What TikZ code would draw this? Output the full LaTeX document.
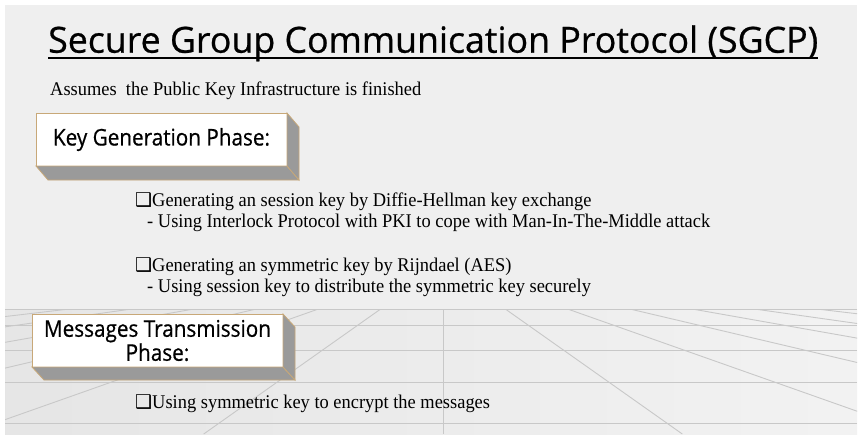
\documentclass[tikz,border=0pt]{standalone}
\usepackage{fontspec}
\setmainfont{Liberation Serif}[FakeStretch=0.95]
\newfontfamily\comicfont{Open Sans}[FakeStretch=0.9,FakeBold=0.6]
\newfontfamily\symfont{DejaVu Sans}
\definecolor{slidebg}{HTML}{EFEFEF}
\definecolor{gridc}{HTML}{C8C8C8}
\definecolor{boxedge}{HTML}{C8A878}
\definecolor{sidegray}{HTML}{9A9A9A}
\newcommand{\sqbul}{{\symfont\fontsize{19}{20}\selectfont ❑}}
\begin{document}
\begin{tikzpicture}[x=1pt,y=-1pt,
  gridline/.style={draw=gridc, line width=0.9pt},
  phasefront/.style={draw=boxedge, line width=0.8pt, fill=white, outer sep=0pt,
     minimum width=251pt, minimum height=53pt, inner sep=0pt, align=center,
     font=\comicfont\fontsize{23}{20}\selectfont},
  phaseside/.style={draw=boxedge, line width=0.8pt, fill=sidegray},
  bodytext/.style={anchor=base west, inner sep=0pt, font=\fontsize{19.4}{22}\selectfont},
  titletext/.style={anchor=base west, inner sep=0pt, font=\comicfont\fontsize{36}{40}\selectfont}
]
\useasboundingbox (0,0) rectangle (862,434);
\fill[white] (0,0) rectangle (862,434);
\fill[slidebg] (5,5) rectangle (857,434);
% floor
\shade[left color=black!10, middle color=white!97!black, right color=black!5] (5,309) rectangle (857,434);
\begin{scope}
  \clip (5,309) rectangle (857,434);
  \coordinate (vp) at (443,265);
  \foreach \k in {-8,...,8} {
    \draw[gridline] (vp) -- ++(\k*239.3,169);
  }
  \foreach \yy in {309,325,350,382,423} {
    \draw[gridline] (5,\yy) -- (857,\yy);
  }
\end{scope}

% title
\node[titletext] (title) at (48,52.7) {\resizebox{770pt}{\height}{Secure Group Communication Protocol (SGCP)}};
\draw[line width=2.4pt] ([yshift=-5pt]title.base west) -- ([yshift=-5pt]title.base east);

\node[bodytext] (assume) at (50,95) {Assumes\ \ the Public Key Infrastructure is finished};

% key generation box
\node[phasefront] (kg) at (161.5,139.5) {Key Generation Phase:};
\draw[phaseside] (kg.south west) -- ([shift={(12,14)}]kg.south west) -- ([shift={(12,14)}]kg.south east) -- (kg.south east) -- cycle;
\draw[phaseside] (kg.north east) -- ([shift={(12,14)}]kg.north east) -- ([shift={(12,14)}]kg.south east) -- (kg.south east) -- cycle;

\node[bodytext] (b1) at (135,206) {\sqbul Generating an session key by Diffie-Hellman key exchange};
\node[bodytext] (b1s) at (147,227) {- Using Interlock Protocol with PKI to cope with Man-In-The-Middle attack};
\node[bodytext] (b2) at (135,271) {\sqbul Generating an symmetric key by Rijndael (AES)};
\node[bodytext] (b2s) at (147,292) {- Using session key to distribute the symmetric key securely};

% messages transmission box
\node[phasefront] (mt) at (157.5,340.5) {Messages Transmission\\Phase:};
\draw[phaseside] (mt.south west) -- ([shift={(12,13)}]mt.south west) -- ([shift={(12,13)}]mt.south east) -- (mt.south east) -- cycle;
\draw[phaseside] (mt.north east) -- ([shift={(12,13)}]mt.north east) -- ([shift={(12,13)}]mt.south east) -- (mt.south east) -- cycle;

\node[bodytext] (b3) at (135,408) {\sqbul Using symmetric key to encrypt the messages};
\end{tikzpicture}
\end{document}
